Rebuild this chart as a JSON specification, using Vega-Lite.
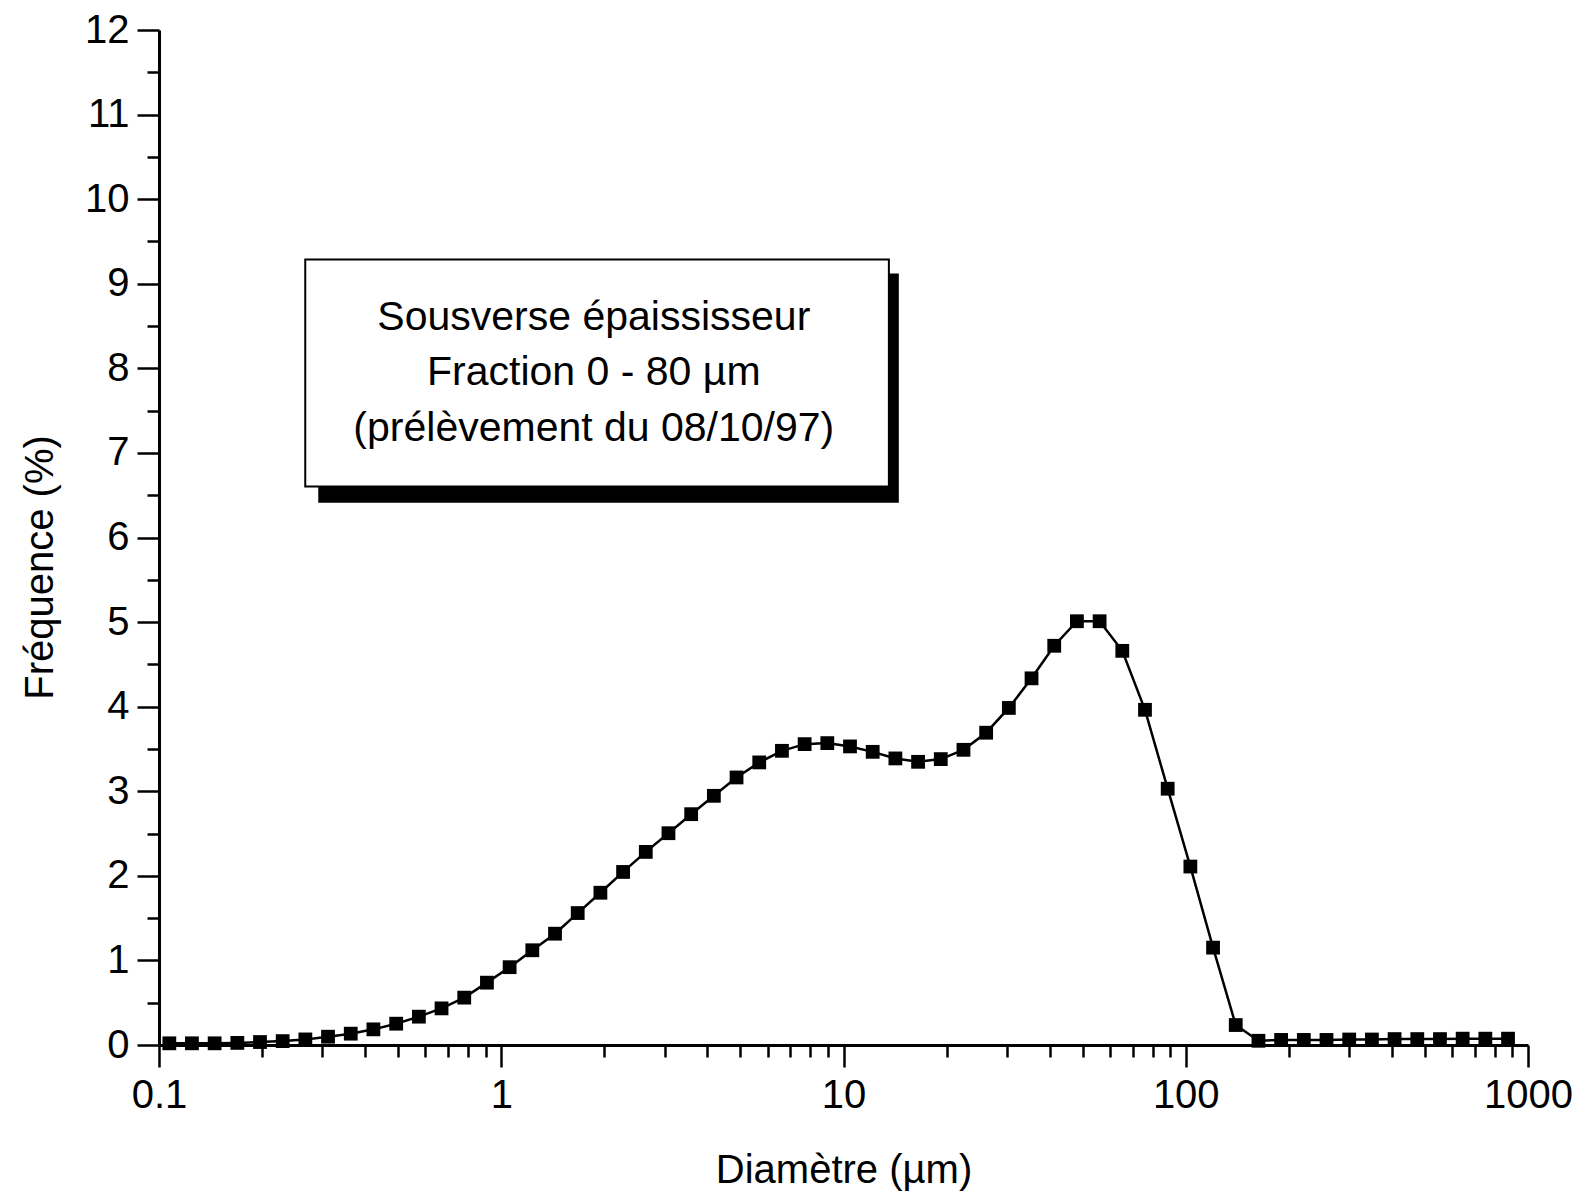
{
  "$schema": "https://vega.github.io/schema/vega-lite/v6.json",
  "width": 1369,
  "height": 1015,
  "autosize": {"type": "none"},
  "padding": {"left": 159, "top": 30, "right": 53, "bottom": 149},
  "background": "white",
  "config": {
    "view": {"stroke": null},
    "font": "Liberation Sans",
    "axis": {
      "grid": false,
      "domainColor": "black",
      "tickColor": "black",
      "labelColor": "black",
      "titleColor": "black",
      "labelFont": "Liberation Sans",
      "titleFont": "Liberation Sans",
      "titleFontWeight": "normal"
    }
  },
  "data": {
    "values": [
      {"d": 0.1072, "f": 0.02}, {"d": 0.1248, "f": 0.02}, {"d": 0.1454, "f": 0.02}, {"d": 0.1694, "f": 0.025},
      {"d": 0.1973, "f": 0.035}, {"d": 0.2298, "f": 0.046}, {"d": 0.2677, "f": 0.066}, {"d": 0.3118, "f": 0.098},
      {"d": 0.3633, "f": 0.134}, {"d": 0.4231, "f": 0.185}, {"d": 0.4932, "f": 0.252}, {"d": 0.5745, "f": 0.335},
      {"d": 0.6692, "f": 0.433}, {"d": 0.7796, "f": 0.56}, {"d": 0.9082, "f": 0.737}, {"d": 1.058, "f": 0.92},
      {"d": 1.2325, "f": 1.12}, {"d": 1.4358, "f": 1.316}, {"d": 1.6726, "f": 1.56}, {"d": 1.9485, "f": 1.8},
      {"d": 2.2699, "f": 2.046}, {"d": 2.6443, "f": 2.283}, {"d": 3.0804, "f": 2.504}, {"d": 3.5885, "f": 2.729},
      {"d": 4.1803, "f": 2.946}, {"d": 4.8697, "f": 3.163}, {"d": 5.6729, "f": 3.341}, {"d": 6.6085, "f": 3.478},
      {"d": 7.6985, "f": 3.557}, {"d": 8.9683, "f": 3.569}, {"d": 10.447, "f": 3.53}, {"d": 12.17, "f": 3.466},
      {"d": 14.178, "f": 3.388}, {"d": 16.516, "f": 3.348}, {"d": 19.24, "f": 3.38}, {"d": 22.414, "f": 3.49},
      {"d": 26.11, "f": 3.692}, {"d": 30.417, "f": 3.985}, {"d": 35.433, "f": 4.335}, {"d": 41.277, "f": 4.72},
      {"d": 48.084, "f": 5.01}, {"d": 56.015, "f": 5.01}, {"d": 65.253, "f": 4.66}, {"d": 76.014, "f": 3.963},
      {"d": 88.551, "f": 3.03}, {"d": 103.16, "f": 2.11}, {"d": 120.17, "f": 1.151}, {"d": 139.99, "f": 0.236},
      {"d": 163.08, "f": 0.05}, {"d": 189.97, "f": 0.06}, {"d": 221.31, "f": 0.06}, {"d": 257.8, "f": 0.06},
      {"d": 300.32, "f": 0.065}, {"d": 349.85, "f": 0.065}, {"d": 407.55, "f": 0.07}, {"d": 474.76, "f": 0.07},
      {"d": 553.06, "f": 0.07}, {"d": 644.27, "f": 0.075}, {"d": 750.52, "f": 0.075}, {"d": 874.3, "f": 0.075}
    ]
  },
  "layer": [
    {
      "data": {"values": [{}]},
      "mark": {"type": "rect", "color": "black"},
      "encoding": {
        "x": {"datum": 0.292, "type": "quantitative", "axis": null},
        "x2": {"datum": 14.51},
        "y": {"datum": 9.12, "type": "quantitative", "axis": null},
        "y2": {"datum": 6.41}
      }
    },
    {
      "data": {"values": [{}]},
      "mark": {"type": "rect", "fill": "white", "stroke": "black", "strokeWidth": 2},
      "encoding": {
        "x": {"datum": 0.2675, "type": "quantitative", "axis": null},
        "x2": {"datum": 13.57},
        "y": {"datum": 9.286, "type": "quantitative", "axis": null},
        "y2": {"datum": 6.603}
      }
    },
    {
      "data": {"values": [{}]},
      "mark": {
        "type": "text",
        "text": ["Sousverse épaississeur", "Fraction 0 - 80 µm", "(prélèvement du 08/10/97)"],
        "font": "Liberation Sans",
        "fontSize": 41,
        "lineHeight": 55.5,
        "align": "center",
        "baseline": "middle",
        "color": "black"
      },
      "encoding": {
        "x": {"datum": 1.864, "type": "quantitative", "axis": null},
        "y": {"datum": 8.6, "type": "quantitative", "axis": null}
      }
    },
    {
      "mark": {"type": "line", "color": "black", "strokeWidth": 2.5},
      "encoding": {
        "x": {
          "field": "d",
          "type": "quantitative",
          "scale": {"type": "log", "domain": [0.1, 1000], "nice": false},
          "axis": {
            "orient": "bottom",
            "title": "Diamètre (µm)",
            "values": [0.1, 1, 10, 100, 1000],
            "format": "~g",
            "tickSize": 22,
            "tickWidth": 2.5,
            "domainWidth": 3,
            "labelFontSize": 40,
            "labelPadding": 8,
            "labelFlush": false,
            "labelOverlap": false,
            "titleFontSize": 40,
            "titleY": 125,
            "titleBaseline": "middle"
          }
        },
        "y": {
          "field": "f",
          "type": "quantitative",
          "scale": {"domain": [0, 12], "nice": false},
          "axis": {
            "orient": "left",
            "title": "Fréquence (%)",
            "values": [0, 1, 2, 3, 4, 5, 6, 7, 8, 9, 10, 11, 12],
            "tickSize": 22,
            "tickWidth": 2.5,
            "domainWidth": 3,
            "labelFontSize": 40,
            "labelPadding": 8,
            "labelFlush": false,
            "labelOverlap": false,
            "titleFontSize": 40,
            "titleX": -119,
            "titleY": 537,
            "titleBaseline": "middle"
          }
        }
      }
    },
    {
      "mark": {"type": "square", "size": 190, "color": "black", "opacity": 1, "filled": true},
      "encoding": {
        "x": {
          "field": "d",
          "type": "quantitative",
          "axis": {
            "orient": "bottom",
            "values": [0.2, 0.3, 0.4, 0.5, 0.6, 0.7, 0.8, 0.9, 2, 3, 4, 5, 6, 7, 8, 9, 20, 30, 40, 50, 60, 70, 80, 90, 200, 300, 400, 500, 600, 700, 800, 900],
            "labels": false,
            "domain": false,
            "title": null,
            "tickSize": 12,
            "tickWidth": 2.5
          }
        },
        "y": {
          "field": "f",
          "type": "quantitative",
          "axis": {
            "orient": "left",
            "values": [0.5, 1.5, 2.5, 3.5, 4.5, 5.5, 6.5, 7.5, 8.5, 9.5, 10.5, 11.5],
            "labels": false,
            "domain": false,
            "title": null,
            "tickSize": 12,
            "tickWidth": 2.5
          }
        }
      }
    }
  ],
  "resolve": {"axis": {"x": "independent", "y": "independent"}}
}
